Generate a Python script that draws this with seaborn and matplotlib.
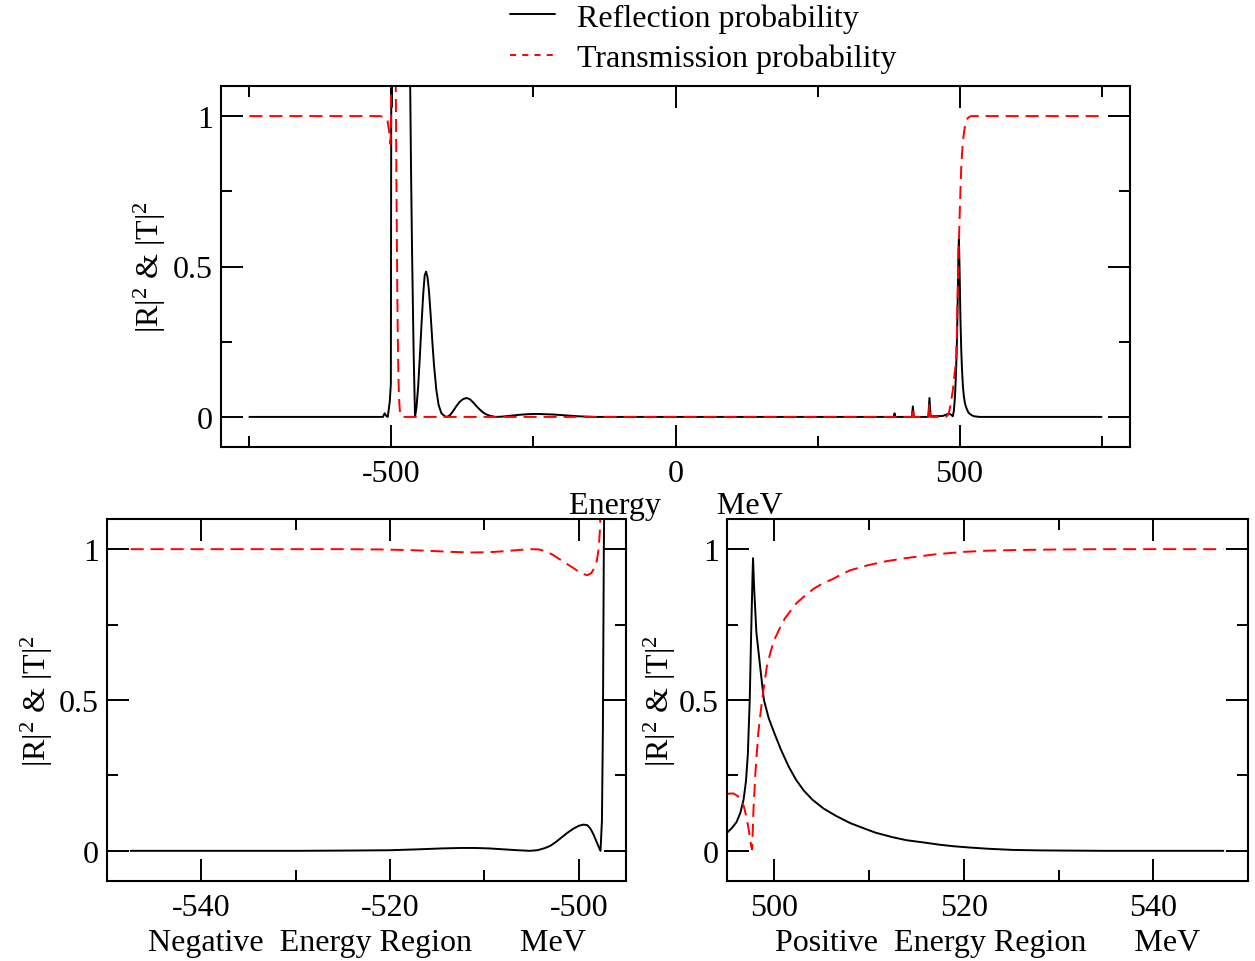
import matplotlib
matplotlib.use("Agg")
import matplotlib.pyplot as plt
from matplotlib.lines import Line2D
from matplotlib.ticker import FixedLocator
import seaborn as sns
import pandas as pd

# ---- full energy range: reflection |R|^2 ----
full_r_energy = [-750, -530, -515, -512, -509, -506.5, -503, -501, -500.2, -499.7, -499,
                 -490, -470, -467, -465.5, -463.7, -461, -458.5, -456, -453, -450, -447,
                 -444, -441.5, -439, -436.5, -434, -431, -428, -425, -421, -417, -412,
                 -406, -402, -397, -392, -386, -380, -374, -368, -362, -356, -349, -342,
                 -335, -327, -317, -305, -290, -275, -260, -245, -230, -215, -200, -185,
                 -170, -155, -140, 384, 385.6, 387, 416, 417.8, 419.5, 445, 447, 449,
                 470, 477, 482, 486, 488, 490, 492, 494, 495.5, 497, 498.2, 498.8,
                 499.6, 500.5, 501.5, 503, 504.5, 506, 507.5, 509, 511, 513, 515.5, 518,
                 522, 526, 535, 750]
full_r_value = [0, 0, 0, 0.012, 0.003, 0.0, 0.05, 0.11, 1.25, 1.03, 1.7,
                1.9, 1.5, 1.1, 0.82, 0.55, 0.22, 0.0, 0.03, 0.10, 0.20, 0.31,
                0.41, 0.47, 0.483, 0.465, 0.42, 0.34, 0.25, 0.17, 0.09, 0.04, 0.012,
                0.002, 0.0, 0.006, 0.018, 0.035, 0.05, 0.059, 0.063, 0.059, 0.048, 0.033, 0.02,
                0.01, 0.004, 0.0, 0.001, 0.004, 0.007, 0.009, 0.01, 0.009, 0.008, 0.006, 0.004,
                0.002, 0.001, 0, 0, 0.012, 0, 0, 0.035, 0, 0, 0.063, 0.002,
                0.003, 0.008, 0.011, 0.006, 0.002, 0.02, 0.07, 0.16, 0.26, 0.42, 0.56, 0.59,
                0.53, 0.44, 0.33, 0.22, 0.15, 0.10, 0.07, 0.05, 0.035, 0.025, 0.015, 0.01,
                0.005, 0.002, 0, 0]

# ---- full energy range: transmission |T|^2 ----
full_t_energy = [-750, -520, -510, -507, -504, -502, -501, -500.3, -495, -493, -492,
                 -491.2, -490.5, -489.7, -489, -488.2, -487.5, -486.7, -486, -485, -484,
                 -482.5, -481, 416, 417.8, 419.5, 445, 447, 449, 476, 479, 482, 485,
                 488, 491, 494, 495.5, 497, 498.5, 500, 501.5, 503, 504.5, 506, 507.5,
                 509, 510.5, 512, 514, 516, 518, 521, 750]
full_t_value = [1.0, 1.0, 0.995, 0.985, 0.95, 0.907, 0.95, 1.5, 1.8, 1.3, 1.0,
                0.78, 0.6, 0.42, 0.3, 0.19, 0.12, 0.07, 0.04, 0.018, 0.008,
                0.002, 0.0, 0, 0.03, 0, 0, 0.04, 0, 0.0, 0.005, 0.02, 0.05,
                0.087, 0.14, 0.187, 0.30, 0.44, 0.56, 0.66, 0.75, 0.83, 0.88, 0.918, 0.94,
                0.96, 0.975, 0.985, 0.992, 0.996, 0.998, 1.0, 1.0]

# ---- negative energy region ----
neg_r_energy = [-547.5, -530, -524, -520, -517, -514.5, -512.5, -511, -509.5, -508,
                -506.5, -505.2, -504.4, -503.6, -503, -502.4, -501.8, -501.2, -500.6,
                -500, -499.5, -499.1, -498.8, -498.5, -498.2, -497.9, -497.7, -497.55,
                -497.45, -497.35, -497.2]
neg_r_value = [0, 0, 0.001, 0.002, 0.005, 0.008, 0.0095, 0.0095, 0.008, 0.005,
               0.002, 0.0, 0.002, 0.009, 0.017, 0.03, 0.045, 0.06, 0.073,
               0.083, 0.087, 0.085, 0.075, 0.058, 0.036, 0.014, 0.0, 0.1,
               0.4, 1.0, 1.5]
neg_t_energy = [-547.5, -525, -521, -518, -515.5, -513.5, -511.3, -509.5, -508, -506.5,
                -505.2, -504.2, -503.5, -502.8, -502, -501.3, -500.6, -500, -499.5,
                -499.1, -498.7, -498.4, -498.1, -497.9, -497.75, -497.6]
neg_t_value = [1.0, 1.0, 0.999, 0.997, 0.994, 0.991, 0.989, 0.99, 0.993, 0.997,
               1.0, 0.999, 0.993, 0.982, 0.966, 0.952, 0.938, 0.925, 0.917,
               0.914, 0.92, 0.935, 0.96, 1.0, 1.07, 1.3]

# ---- positive energy region ----
pos_r_energy = [495, 495.5, 496, 496.4, 496.75, 497.0, 497.2, 497.4, 497.55, 497.7,
                497.75, 497.85, 498.1, 498.5, 498.9, 499.4, 500, 500.7, 501.5, 502.3,
                503.1, 504, 505.2, 506.5, 508, 509.5, 510.7, 512.5, 514, 515.7, 517.5,
                519, 520.6, 522.5, 525.2, 528, 530, 535, 547.4]
pos_r_value = [0.06, 0.075, 0.095, 0.125, 0.17, 0.23, 0.32, 0.5, 0.72, 0.92,
               0.97, 0.88, 0.725, 0.61, 0.5, 0.44, 0.39, 0.335, 0.28, 0.235,
               0.2, 0.17, 0.14, 0.116, 0.092, 0.074, 0.06, 0.045, 0.035, 0.028, 0.02,
               0.015, 0.011, 0.007, 0.003, 0.0015, 0.001, 0, 0]
pos_t_energy = [495, 495.3, 495.7, 496.1, 496.5, 496.8, 497.1, 497.35, 497.55, 497.65,
                497.8, 498.0, 498.3, 498.7, 499.2, 499.6, 500, 500.6, 501.1, 501.7,
                502.3, 503.2, 504.2, 505.2, 506.1, 507, 508, 509.9, 511.8, 513.8,
                515.5, 517, 520, 522.5, 525.2, 530, 535, 547.4]
pos_t_value = [0.188, 0.19, 0.19, 0.182, 0.17, 0.145, 0.105, 0.06, 0.015, 0.005,
               0.14, 0.26, 0.39, 0.5, 0.61, 0.66, 0.70, 0.74, 0.77, 0.795,
               0.82, 0.845, 0.87, 0.888, 0.90, 0.915, 0.93, 0.947, 0.96, 0.97,
               0.977, 0.983, 0.991, 0.995, 0.997, 0.999, 1.0, 1.0]

y_ticks = [0, 0.5, 1]
y_tick_labels = ["0", "0.5", "1"]
legend_labels = ["Reflection probability", "Transmission probability"]
y_label = r"|R|$^2$ & |T|$^2$"

sns.set_theme(style="ticks")
plt.rcParams.update({
    "font.family": ["Liberation Serif", "DejaVu Serif"],
    "font.size": 23,
    "text.color": "black",
    "axes.labelcolor": "black",
    "xtick.labelcolor": "black",
    "ytick.labelcolor": "black",
    "mathtext.fontset": "custom",
    "mathtext.rm": "Liberation Serif",
    "mathtext.it": "Liberation Serif:italic",
    "axes.unicode_minus": False,
    "axes.linewidth": 1.5,
    "lines.scale_dashes": False,
    "lines.solid_joinstyle": "round",
    "lines.dash_joinstyle": "round",
    "xtick.direction": "in",
    "ytick.direction": "in",
    "xtick.major.size": 15.8,
    "ytick.major.size": 15.8,
    "xtick.minor.size": 7.9,
    "ytick.minor.size": 7.9,
    "xtick.major.width": 1.4,
    "ytick.major.width": 1.4,
    "xtick.minor.width": 1.4,
    "ytick.minor.width": 1.4,
    "xtick.color": "black",
    "ytick.color": "black",
    "axes.edgecolor": "black",
})

W, H = 1255, 962
fig = plt.figure(figsize=(W / 100, H / 100), dpi=100)


def add_axes_px(left, top, right, bottom):
    return fig.add_axes([left / W, 1 - bottom / H, (right - left) / W, (bottom - top) / H])


ax_top = add_axes_px(221, 87, 1130, 448)
ax_neg = add_axes_px(107, 520, 626, 882)
ax_pos = add_axes_px(727, 520, 1248, 882)

dash = (0, (9.4, 5.0))
line_w = 1.4


def draw(ax, er, rv, et, tv):
    sns.lineplot(data=pd.DataFrame({"E": er, "P": rv}), x="E", y="P", ax=ax,
                 color="black", linewidth=line_w, sort=False, estimator=None)
    sns.lineplot(data=pd.DataFrame({"E": et, "P": tv}), x="E", y="P", ax=ax,
                 color="red", linewidth=line_w, linestyle=dash, sort=False, estimator=None)


draw(ax_top, full_r_energy, full_r_value, full_t_energy, full_t_value)
draw(ax_neg, neg_r_energy, neg_r_value, neg_t_energy, neg_t_value)
draw(ax_pos, pos_r_energy, pos_r_value, pos_t_energy, pos_t_value)

ax_top.set_xlim(-800, 800)
ax_top.xaxis.set_major_locator(FixedLocator([-500, 0, 500]))
ax_top.xaxis.set_minor_locator(FixedLocator([-750, -250, 250, 750]))
ax_neg.set_xlim(-550, -495)
ax_neg.xaxis.set_major_locator(FixedLocator([-540, -520, -500]))
ax_neg.xaxis.set_minor_locator(FixedLocator([-530, -510]))
ax_pos.set_xlim(495, 550)
ax_pos.xaxis.set_major_locator(FixedLocator([500, 520, 540]))
ax_pos.xaxis.set_minor_locator(FixedLocator([510, 530]))

for ax in (ax_top, ax_neg, ax_pos):
    ax.set_ylim(-0.1, 1.1)
    ax.set_yticks(y_ticks)
    ax.set_yticklabels(y_tick_labels)
    ax.yaxis.set_minor_locator(FixedLocator([0.25, 0.75]))
    ax.tick_params(which="both", top=True, right=True, labelsize=23)
    ax.tick_params(axis="x", which="major", pad=9)
    ax.tick_params(axis="y", which="major", pad=6)
    for s in ax.spines.values():
        s.set_linewidth(1.5)
    ax.set_ylabel(y_label, fontsize=23)

ax_top.set_xlabel("Energy       MeV", fontsize=23)
ax_neg.set_xlabel("Negative  Energy Region      MeV", fontsize=23)
ax_pos.set_xlabel("Positive  Energy Region      MeV", fontsize=23)

ax_top.yaxis.set_label_coords((150 - 221) / 909, 0.5)
ax_neg.yaxis.set_label_coords((37 - 107) / 519, 0.5)
ax_pos.yaxis.set_label_coords((660 - 727) / 521, 0.5)
for ax, base in ((ax_top, (448 - 514) / 361), (ax_neg, (882 - 951) / 362), (ax_pos, (882 - 951) / 362)):
    ax.xaxis.label.set_va("baseline")
    ax.xaxis.set_label_coords(0.5, base)
    ax.yaxis.label.set_va("center")

handles = [Line2D([], [], color="black", linewidth=line_w),
           Line2D([], [], color="red", linewidth=line_w, linestyle=(0, (4.4, 4.4)))]
fig.legend(handles, legend_labels, loc="upper left", bbox_to_anchor=(510 / W, 1 - 4 / H),
           frameon=False, fontsize=23, handlelength=1.42, handletextpad=0.67,
           labelspacing=0.34, borderpad=0, borderaxespad=0)

fig.savefig("out.png", dpi=100)
